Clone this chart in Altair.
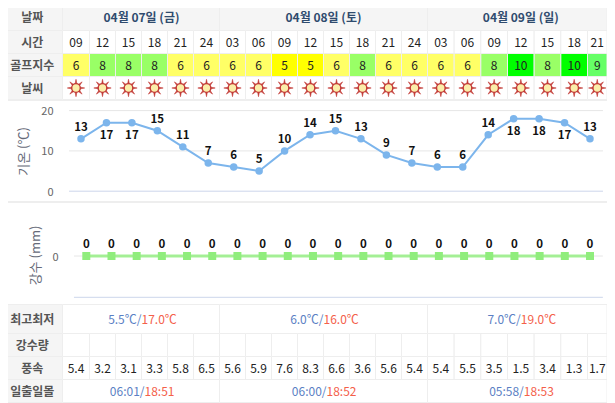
import math
import altair as alt
import pandas as pd

# ---------- data ----------
row_labels_top = ["날짜", "시간", "골프지수", "날씨"]
row_labels_bottom = ["최고최저", "강수량", "풍속", "일출일몰"]
days = ["04월 07일 (금)", "04월 08일 (토)", "04월 09일 (일)"]
day_spans = [(0, 6), (6, 14), (14, 21)]
hours = ["09", "12", "15", "18", "21", "24", "03", "06", "09", "12", "15", "18", "21", "24",
         "03", "06", "09", "12", "15", "18", "21"]
golf = [6, 8, 8, 8, 6, 6, 6, 6, 5, 5, 6, 8, 6, 6, 6, 6, 8, 10, 8, 10, 9]
temps = [13, 17, 17, 15, 11, 7, 6, 5, 10, 14, 15, 13, 9, 7, 6, 6, 14, 18, 18, 17, 13]
rain = [0] * 21
wind = [5.4, 3.2, 3.1, 3.3, 5.8, 6.5, 5.6, 5.9, 7.6, 8.3, 6.6, 3.6, 5.6, 5.4,
        5.4, 5.5, 3.5, 1.5, 3.4, 1.3, 1.7]
t_min = ["5.5℃/", "6.0℃/", "7.0℃/"]
t_max = ["17.0℃", "16.0℃", "19.0℃"]
sunrise = ["06:01/", "06:00/", "05:58/"]
sunset = ["18:51", "18:52", "18:53"]
golf_levels = [5, 6, 8, 9, 10]
golf_colors = ["#ffff00", "#ffff66", "#99ff66", "#66ff66", "#00ff00"]

FONT = "Noto Sans CJK KR"
LINE = "#eeeeee"
HEAD = "#f5f5f5"
LABEL = "#555555"
W, H = 599, 395

# ---------- table scales (column and row boundaries) ----------
col_scale = alt.Scale(domain=[-1, 0, 1, 14, 20, 21], range=[-6, 54.5, 81.5, 419.5, 579.5, 599])
# rows: 0-3 top cells, 4 gap, 5 temp panel, 6 gap, 7 rain panel, 8 gap, 9-12 bottom cells
row_edges = [2.5, 30.5, 53.5, 76.5, 99.5, 101, 201, 203, 304, 304.5, 333.5, 356.5, 379.5, 402.5]
row_scale = alt.Scale(domain=list(range(14)), range=[e - 8 for e in row_edges])

R_DATE, R_HOUR, R_GOLF, R_SKY, R_TEMP, R_RAIN = 0, 1, 2, 3, 5, 7
R_MM, R_PRECIP, R_WIND, R_SUN = 9, 10, 11, 12


def X(f="c"):
    return alt.X(f"{f}:Q", scale=col_scale, axis=None)


def Y(f="r"):
    return alt.Y(f"{f}:Q", scale=row_scale, axis=None)


def cells(df, fill):
    return alt.Chart(df).mark_rect(stroke=LINE, strokeWidth=1, fill=fill).encode(
        x=X("c"), x2="c2:Q", y=Y("r"), y2="r2:Q")


def texts(df, **kw):
    opts = dict(font=FONT, fontSize=12, color="#222222", baseline="middle", dy=1)
    opts.update(kw)
    return alt.Chart(df).mark_text(**opts).encode(x=X("cx"), y=Y("ry"), text="t:N")


def row_df(row, values):
    return pd.DataFrame([{"c": i, "c2": i + 1, "cx": i + 0.5, "r": row, "r2": row + 1,
                          "ry": row + 0.5, "t": str(v), "v": v} for i, v in enumerate(values)])


def day_df(row, values):
    return pd.DataFrame([{"c": a, "c2": b, "cx": (a + b) / 2, "r": row, "r2": row + 1,
                          "ry": row + 0.5, "t": v} for (a, b), v in zip(day_spans, values)])


def head_df(pairs):
    return pd.DataFrame([{"c": -1, "c2": 0, "cx": -0.5, "r": r, "r2": r + 1, "ry": r + 0.5, "t": t}
                         for r, t in pairs])


layers = []

# panels
panel_df = pd.DataFrame({"c": [-1, -1], "c2": [21, 21], "r": [R_TEMP, R_RAIN], "r2": [R_TEMP + 1, R_RAIN + 1]})
layers.append(alt.Chart(panel_df).mark_rect(fill="white").encode(x=X("c"), x2="c2:Q", y=Y("r"), y2="r2:Q"))

# header column
head = head_df(list(zip([R_DATE, R_HOUR, R_GOLF, R_SKY], row_labels_top)) +
               list(zip([R_MM, R_PRECIP, R_WIND, R_SUN], row_labels_bottom)))
layers.append(cells(head, HEAD))
layers.append(texts(head, fontWeight="bold", color=LABEL))

# date row
date_df = day_df(R_DATE, days)
layers.append(cells(date_df, HEAD))
layers.append(texts(date_df, fontWeight="bold", color="#2f4b6e"))

# hours
hour_df = row_df(R_HOUR, hours)
layers.append(cells(hour_df, "white"))
layers.append(texts(hour_df))

# golf index
golf_df = row_df(R_GOLF, golf)
layers.append(alt.Chart(golf_df).mark_rect(stroke=LINE, strokeWidth=1).encode(
    x=X("c"), x2="c2:Q", y=Y("r"), y2="r2:Q",
    color=alt.Color("v:O", scale=alt.Scale(domain=golf_levels, range=golf_colors), legend=None)))
layers.append(texts(golf_df))

# weather icons
sky_df = row_df(R_SKY, ["sun"] * 21)
layers.append(cells(sky_df, "white"))
ray_parts = []
for k in range(8):
    a = k * math.pi / 4
    tip = (math.cos(a), math.sin(a))
    b1 = (0.5 * math.cos(a - 0.2), 0.5 * math.sin(a - 0.2))
    b2 = (0.5 * math.cos(a + 0.2), 0.5 * math.sin(a + 0.2))
    ray_parts.append(f"M{b1[0]:.3f},{b1[1]:.3f}L{tip[0]:.3f},{tip[1]:.3f}L{b2[0]:.3f},{b2[1]:.3f}Z")
RAYS = "".join(ray_parts)
layers.append(alt.Chart(sky_df).mark_point(shape=RAYS, size=300, filled=True, fill="#c23a36",
                                           stroke="#c23a36", strokeWidth=0.6, opacity=1).encode(
    x=X("cx"), y=Y("ry")))
layers.append(alt.Chart(sky_df).mark_circle(size=75, fill="#fbeeaa", stroke="#c23a36", strokeWidth=1.4,
                                            opacity=1).encode(x=X("cx"), y=Y("ry")))

# min/max
mm_cells = day_df(R_MM, t_min)
layers.append(cells(mm_cells, "white"))
layers.append(texts(mm_cells, align="right", color="#5b7fc4"))
layers.append(texts(day_df(R_MM, t_max), align="left", color="#f4604a"))

# precipitation (empty) and wind
layers.append(cells(row_df(R_PRECIP, [""] * 21), "white"))
wind_df = row_df(R_WIND, wind)
layers.append(cells(wind_df, "white"))
layers.append(texts(wind_df))

# sunrise / sunset
sun_cells = day_df(R_SUN, sunrise)
layers.append(cells(sun_cells, "white"))
layers.append(texts(sun_cells, align="right", color="#5b7fc4", dx=3))
layers.append(texts(day_df(R_SUN, sunset), align="left", color="#f4604a", dx=3))

# ---------- temperature chart ----------
temp_df = pd.DataFrame({"i": list(range(21)), "v": temps})
tx = alt.Scale(domain=[0, 20], range=[73, 582])
ty = alt.Scale(domain=[0, 20], range=[183.2, 102.6])
tick_vals = [0, 10, 20]
grid_df = pd.DataFrame({"a": [-0.47] * 3, "b": [20.51] * 3, "v": tick_vals})
tX = lambda f="i": alt.X(f"{f}:Q", scale=tx, axis=None)
layers.append(alt.Chart(grid_df).transform_filter("datum.v > 0").mark_rule(color="#e6e6e6", strokeWidth=1).encode(
    x=tX("a"), x2="b:Q", y=alt.Y("v:Q", scale=ty, axis=None)))
layers.append(alt.Chart(grid_df).transform_filter("datum.v == 0").mark_rule(color="#ccd6eb", strokeWidth=1).encode(
    x=tX("a"), x2="b:Q", y=alt.Y("v:Q", scale=ty, axis=None)))
layers.append(alt.Chart(temp_df).mark_line(color="#7cb5ec", strokeWidth=2).encode(
    x=tX(),
    y=alt.Y("v:Q", scale=ty, axis=alt.Axis(
        orient="left", values=tick_vals, domain=False, ticks=False, grid=False, offset=-45, zindex=1,
        labelPadding=0, labelOffset=1, labelFont=FONT, labelFontSize=11, labelColor="#666666",
        title="기온 (℃)", titleFont=FONT, titleFontSize=13, titleFontWeight="normal", titleColor="#666a78",
        titleAngle=270, titleX=-30, titleY=143, titleBaseline="middle", titleAlign="center"))))
layers.append(alt.Chart(temp_df).mark_circle(size=56, color="#7cb5ec", opacity=1).encode(
    x=tX(), y=alt.Y("v:Q", scale=ty, axis=None)))
for cond, dy in (("datum.v < 17", -11), ("datum.v >= 17", 13)):
    layers.append(alt.Chart(temp_df).transform_filter(cond).mark_text(
        font=FONT, fontSize=11.5, fontWeight="bold", color="#111111", baseline="middle", dy=dy).encode(
        x=tX(), y=alt.Y("v:Q", scale=ty, axis=None), text="v:Q"))

# ---------- rain chart ----------
rain_df = pd.DataFrame({"i": list(range(21)), "v": rain})
rx = alt.Scale(domain=[0, 20], range=[78.3, 582])
ry = alt.Scale(domain=[-1, 0], range=[289.3, 248])
rX = lambda f="i": alt.X(f"{f}:Q", scale=rx, axis=None)
rain_grid = pd.DataFrame({"a": [-0.49, -0.49], "b": [20.51, 20.51], "v": [0, -1]})
layers.append(alt.Chart(rain_grid).transform_filter("datum.v == 0").mark_rule(color="#e6e6e6", strokeWidth=1).encode(
    x=rX("a"), x2="b:Q", y=alt.Y("v:Q", scale=ry, axis=None)))
layers.append(alt.Chart(rain_grid).transform_filter("datum.v == -1").mark_rule(color="#ccd6eb", strokeWidth=1).encode(
    x=rX("a"), x2="b:Q", y=alt.Y("v:Q", scale=ry, axis=None)))
layers.append(alt.Chart(rain_df).mark_line(color="#90ed7d", strokeWidth=3, opacity=0.8).encode(
    x=rX(),
    y=alt.Y("v:Q", scale=ry, axis=alt.Axis(
        orient="left", values=[0], domain=False, ticks=False, grid=False, offset=-50, zindex=1,
        labelPadding=0, labelOffset=1, labelFont=FONT, labelFontSize=11, labelColor="#666666",
        title="강수 (mm)", titleFont=FONT, titleFontSize=13, titleFontWeight="normal", titleColor="#666a78",
        titleAngle=270, titleX=-23, titleY=247, titleBaseline="middle", titleAlign="center"))))
layers.append(alt.Chart(rain_df).mark_point(shape="square", size=64, filled=True, fill="#90ed7d", opacity=1).encode(
    x=rX(), y=alt.Y("v:Q", scale=ry, axis=None)))
layers.append(alt.Chart(rain_df).mark_text(font=FONT, fontSize=11.5, fontWeight="bold", color="#111111",
                                           baseline="middle", dy=-11).encode(
    x=rX(), y=alt.Y("v:Q", scale=ry, axis=None), text="v:Q"))

chart = alt.layer(*layers).resolve_scale(x="independent", y="independent", color="independent").properties(
    width=W, height=H, background=LINE, padding=0,
    autosize=alt.AutoSizeParams(type="none"),
).configure_view(stroke=None)

chart.save("out.html", embed_options={"renderer": "svg", "actions": False})
